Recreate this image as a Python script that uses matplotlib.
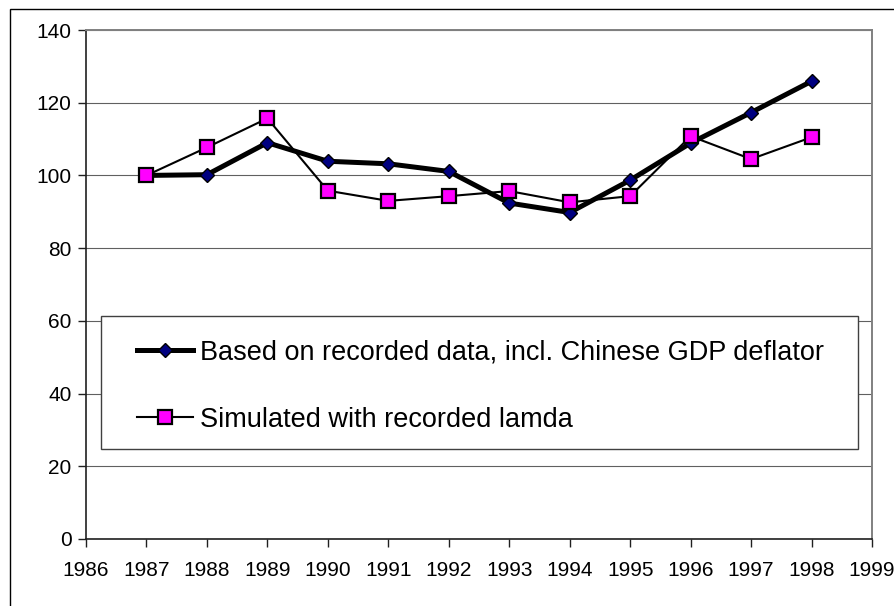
"""Excel-style line chart: recorded vs simulated index, 1987-1998."""

import matplotlib

matplotlib.use("Agg")

import matplotlib.pyplot as plt
from matplotlib.patches import Rectangle

plt.rcParams["font.family"] = ["Liberation Sans", "DejaVu Sans"]

YEARS = [1987, 1988, 1989, 1990, 1991, 1992, 1993, 1994, 1995, 1996, 1997, 1998]
RECORDED = [100.0, 100.2, 109.0, 103.9, 103.2, 101.1, 92.4, 89.8, 98.7, 108.9, 117.3, 125.9]
SIMULATED = [100.0, 107.7, 115.7, 95.8, 93.0, 94.3, 95.7, 92.6, 94.3, 110.8, 104.5, 110.5]

LABEL_RECORDED = "Based on recorded data, incl. Chinese GDP deflator"
LABEL_SIMULATED = "Simulated with recorded lamda"

X_TICKS = list(range(1986, 2000))
Y_TICKS = list(range(0, 141, 20))

W, H = 895, 606
# plot area in pixels (left, top, right, bottom)
PL, PT, PR, PB = 86, 30, 872, 539
PW, PH = PR - PL, PB - PT

fig = plt.figure(figsize=(W / 100, H / 100), dpi=100)
fig.patch.set_facecolor("white")

# outer chart-area border (only left and top are visible in the crop)
fig.add_artist(Rectangle((10 / W, -0.5), 2, 0.5 + (1 - 9 / H),
                         transform=fig.transFigure, fill=False,
                         edgecolor="black", linewidth=1.0))

ax = fig.add_axes([PL / W, 1 - PB / H, PW / W, PH / H])

ax.plot(YEARS, RECORDED, color="black", linewidth=3.6, marker="D",
        markersize=7.0, markerfacecolor="#000080", markeredgecolor="black",
        markeredgewidth=1.0, label=LABEL_RECORDED, zorder=3)
ax.plot(YEARS, SIMULATED, color="black", linewidth=1.5, marker="s",
        markersize=9.4, markerfacecolor="#ff00ff", markeredgecolor="black",
        markeredgewidth=1.6, label=LABEL_SIMULATED, zorder=4)

ax.set_xlim(1986, 1999)
ax.set_ylim(0, 140)
ax.set_xticks(X_TICKS)
ax.set_yticks(Y_TICKS)

ax.yaxis.grid(True, color="#606060", linewidth=0.8)
ax.set_axisbelow(True)

for side in ("top", "right"):
    ax.spines[side].set_color("#808080")
    ax.spines[side].set_linewidth(1.4)
for side in ("left", "bottom"):
    ax.spines[side].set_color("#202020")
    ax.spines[side].set_linewidth(1.2)

ax.tick_params(axis="both", direction="out", length=5.5, width=1.0,
               color="#202020", labelsize=15)
ax.tick_params(axis="y", pad=5)
ax.tick_params(axis="x", pad=10)

# legend box drawn by hand so the padding can differ horizontally/vertically
box_left, box_top, box_right, box_bottom = 101, 315.7, 858.3, 449.3
ax.add_patch(Rectangle(((box_left - PL) / PW, (PB - box_bottom) / PH),
                       (box_right - box_left) / PW, (box_bottom - box_top) / PH,
                       transform=ax.transAxes, facecolor="white",
                       edgecolor="#404040", linewidth=1.0, zorder=2))

leg = ax.legend(loc="upper left",
                bbox_to_anchor=((137 - PL) / PW, (PB - 339.5) / PH),
                fontsize=19.5, frameon=False, borderpad=0.0, borderaxespad=0.0,
                labelspacing=1.52, handlelength=2.05, handletextpad=0.27)
leg.set_zorder(5)

fig.savefig("out.png", dpi=100, facecolor="white")
